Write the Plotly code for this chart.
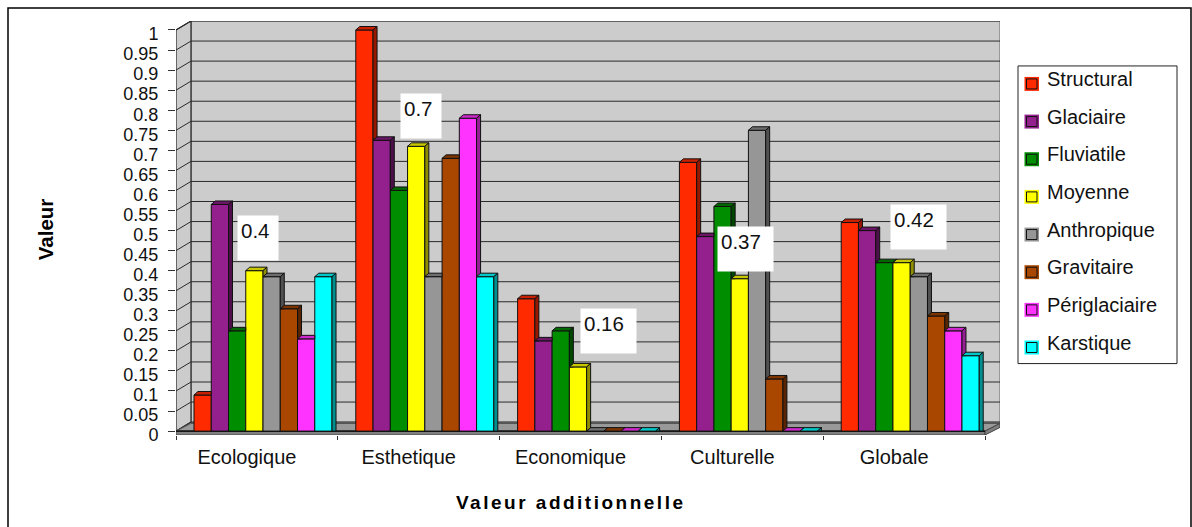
import plotly.graph_objects as go

# ---- data ----
categories = ["Ecologique", "Esthetique", "Economique", "Culturelle", "Globale"]
series_names = ["Structural", "Glaciaire", "Fluviatile", "Moyenne",
                "Anthropique", "Gravitaire", "Périglaciaire", "Karstique"]
structural = [0.09, 1.0, 0.33, 0.67, 0.52]
glaciaire = [0.565, 0.725, 0.225, 0.485, 0.50]
fluviatile = [0.25, 0.60, 0.25, 0.56, 0.42]
moyenne = [0.40, 0.71, 0.16, 0.38, 0.42]
anthropique = [0.385, 0.385, 0, 0.75, 0.385]
gravitaire = [0.305, 0.68, 0, 0.13, 0.287]
periglaciaire = [0.23, 0.78, 0, 0, 0.25]
karstique = [0.385, 0.385, 0, 0, 0.188]
series_values = [structural, glaciaire, fluviatile, moyenne,
                 anthropique, gravitaire, periglaciaire, karstique]
y_ticks = [i / 20 for i in range(21)]
y_tick_text = ["0", "0.05", "0.1", "0.15", "0.2", "0.25", "0.3", "0.35", "0.4", "0.45", "0.5",
               "0.55", "0.6", "0.65", "0.7", "0.75", "0.8", "0.85", "0.9", "0.95", "1"]
value_labels = ["0.4", "0.7", "0.16", "0.37", "0.42"]

# ---- styles ----
front = ["#FF2A00", "#94208E", "#008E00", "#FFFF00", "#969696", "#A94700", "#FF33FF", "#00FFFF"]
top_c = ["#C82000", "#6C1668", "#006800", "#C8C800", "#6E6E6E", "#7C3400", "#CC28CC", "#00C8C8"]
side_c = ["#961800", "#4C0F49", "#004800", "#8E8E00", "#505050", "#582500", "#961E96", "#008E8E"]
FONT = "Liberation Sans, Arial, sans-serif"

# ---- geometry, page pixels ----
W, H = 1192, 527
L, R, T, B0, BOT = 176, 1000, 21, 431.6, 435.5   # plot box and baseline
PX_CAT = 161.8      # pixels per category
PX_UNIT = 401.6     # pixels per unit value
WALL_DX, WALL_DY = 15, 9
FLOOR_DY = 7.6
BAR_DX, BAR_DY = 4, 3.5
GAP = 0.147
CENTER_SHIFT = 0.0378
BAR_W = (1 - GAP) / 8

xr = [0, (R - L) / PX_CAT]
yr = [-(BOT - B0) / PX_UNIT, (B0 - T) / PX_UNIT]
wx, wy = WALL_DX / PX_CAT, WALL_DY / PX_UNIT
bx, by = BAR_DX / PX_CAT, BAR_DY / PX_UNIT
fy_d = FLOOR_DY / PX_UNIT


def fx(px):
    return (px - L) / (R - L)


def fy(py):
    return (BOT - py) / (BOT - T)


fig = go.Figure()

# front faces, one bar trace per series
centers = [i + 0.5 + CENTER_SHIFT for i in range(len(categories))]
for name, vals, col in zip(series_names, series_values, front):
    fig.add_trace(go.Bar(x=centers, y=vals, name=name, showlegend=False,
                         marker=dict(color=col, line=dict(color="#111111", width=1))))


def poly(xs, ys, color):
    fig.add_trace(go.Scatter(x=xs + xs[:1], y=ys + ys[:1], mode="lines", fill="toself",
                             fillcolor=color, line=dict(color="#111111", width=1),
                             hoverinfo="skip", showlegend=False))


# top and side faces, derived from the same values
for c, cx in enumerate(centers):
    left0 = cx - (1 - GAP) / 2
    for s, vals in enumerate(series_values):
        v = vals[c]
        nxt = series_values[s + 1][c] if s < 7 else 0
        xl = left0 + s * BAR_W
        xe = xl + BAR_W
        covered = nxt >= v + by
        right = xe if covered else xe + bx
        poly([xl, xl + bx, right, xe], [v, v + by, v + by, v], top_c[s])
        if not covered:
            lo = max(nxt, 0)
            if lo <= v:
                poly([xe, xe + bx, xe + bx, xe], [v, v + by, lo, lo], side_c[s])
            else:
                poly([xe + (lo - v) / by * bx, xe + bx, xe + bx], [lo, v + by, lo], side_c[s])

shapes = []


def path(xs, ys, fill, line="#222222", w=1):
    d = "M" + " L".join(f"{a},{b}" for a, b in zip(xs, ys)) + " Z"
    shapes.append(dict(type="path", path=d, xref="x", yref="y", fillcolor=fill,
                       line=dict(color=line, width=w), layer="below"))


ncat = len(categories)
# back wall, side wall
path([wx, xr[1], xr[1], wx], [wy, wy, 1 + wy, 1 + wy], "#CCCCCC", "#666666")
path([0, wx, wx, 0], [0, wy, 1 + wy, 1], "#CCCCCC", "#222222", 1.2)
# gridlines on both walls
for t in y_ticks:
    shapes.append(dict(type="line", xref="x", yref="y", x0=wx, x1=xr[1], y0=t + wy, y1=t + wy,
                       line=dict(color="#2A2A2A", width=1), layer="below"))
    shapes.append(dict(type="line", xref="x", yref="y", x0=0, x1=wx, y0=t, y1=t + wy,
                       line=dict(color="#2A2A2A", width=1), layer="below"))
# floor and its front lip
path([0, ncat, xr[1], wx], [0, 0, fy_d, fy_d], "#999999", "#555555")
path([0, ncat, ncat, 0], [0, 0, yr[0], yr[0]], "#808080", "#444444")
path([ncat, xr[1], xr[1], ncat], [0, fy_d, fy_d + yr[0], yr[0]], "#808080", "#444444")
shapes.append(dict(type="line", xref="x", yref="y", x0=0, x1=ncat, y0=0, y1=0,
                   line=dict(color="#000000", width=1.2), layer="below"))
# outer chart frame
shapes.append(dict(type="rect", xref="paper", yref="paper", x0=fx(8), x1=fx(1191),
                   y0=fy(535), y1=fy(8), line=dict(color="#000000", width=1.5), layer="below"))
# legend box
shapes.append(dict(type="rect", xref="paper", yref="paper", x0=fx(1018), x1=fx(1177),
                   y0=fy(364), y1=fy(66), line=dict(color="#222222", width=1), fillcolor="white"))

annotations = []
LEG_Y0, LEG_STEP = 84, 37.7
for i, name in enumerate(series_names):
    cy = LEG_Y0 + LEG_STEP * i
    shapes.append(dict(type="rect", xref="paper", yref="paper", x0=fx(1024.5), x1=fx(1039),
                       y0=fy(cy + 7), y1=fy(cy - 7), fillcolor=front[i], line=dict(width=0)))
    shapes.append(dict(type="rect", xref="paper", yref="paper", x0=fx(1026.5), x1=fx(1037),
                       y0=fy(cy + 5), y1=fy(cy - 5), fillcolor=front[i],
                       line=dict(color="#111111", width=1)))
    annotations.append(dict(xref="paper", yref="paper", x=fx(1045), y=fy(cy - 5), text=name,
                            showarrow=False, xanchor="left", yanchor="middle",
                            font=dict(family=FONT, size=20, color="#111111")))

# value boxes: left, top, width, height
label_boxes = [(237, 215, 40, 44), (400, 93, 40, 44), (580, 308, 55, 44),
               (717, 226, 55, 44), (890, 204, 55, 44)]
PAD = 3
for txt, (bl, bt, bw, bh) in zip(value_labels, label_boxes):
    annotations.append(dict(xref="paper", yref="paper", x=fx(bl), y=fy(bt), text=txt,
                            showarrow=False, xanchor="left", yanchor="top",
                            width=bw - 2 * PAD, height=bh - 2 * PAD,
                            align="left", valign="top", bgcolor="white", borderpad=PAD,
                            font=dict(family=FONT, size=20.5, color="#111111")))

# axis titles
annotations.append(dict(xref="paper", yref="paper", x=fx(45), y=fy(229.5), text="<b>Valeur</b>",
                        textangle=-90, showarrow=False, xanchor="center", yanchor="middle",
                        font=dict(family=FONT, size=20.5, color="#000000")))
annotations.append(dict(xref="paper", yref="paper", x=fx(571), y=fy(503),
                        text="<b>Valeur additionnelle</b>", showarrow=False,
                        xanchor="center", yanchor="middle",
                        font=dict(family=FONT, size=19, color="#000000")))

fig.update_layout(
    width=W, height=H, autosize=False,
    margin=dict(l=L, r=W - R, t=T, b=H - BOT, pad=0),
    paper_bgcolor="white", plot_bgcolor="white",
    barmode="group", bargap=GAP, bargroupgap=0,
    showlegend=False, shapes=shapes, annotations=annotations,
    xaxis=dict(range=xr, showgrid=False, zeroline=False, showline=False,
               tickmode="array", tickvals=[i + 0.5 for i in range(ncat)], ticktext=categories,
               ticks="", ticklabelshift=-10, ticklabelstandoff=8,
               tickfont=dict(family=FONT, size=20, color="#111111"),
               minor=dict(ticks="outside", tick0=0, dtick=1, ticklen=4, tickwidth=1,
                          tickcolor="#333333", showgrid=False)),
    yaxis=dict(range=yr, showgrid=False, zeroline=False, showline=False,
               tickmode="array", tickvals=y_ticks, ticktext=y_tick_text,
               ticks="outside", ticklen=7, tickwidth=1, tickcolor="#333333",
               ticklabelshift=4, ticklabelstandoff=6,
               tickfont=dict(family=FONT, size=18, color="#111111")),
)

# page fits the window exactly; the x-axis title in the reference is letter-spaced
page_setup = """
document.body.style.margin = '0';
document.body.style.overflow = 'hidden';
document.querySelectorAll('.annotation-text').forEach(function (n) {
  if (n.textContent === 'Valeur additionnelle') { n.style.letterSpacing = '2.5px'; }
});
"""
fig.write_html("out.html", post_script=page_setup, config={"displayModeBar": False})
